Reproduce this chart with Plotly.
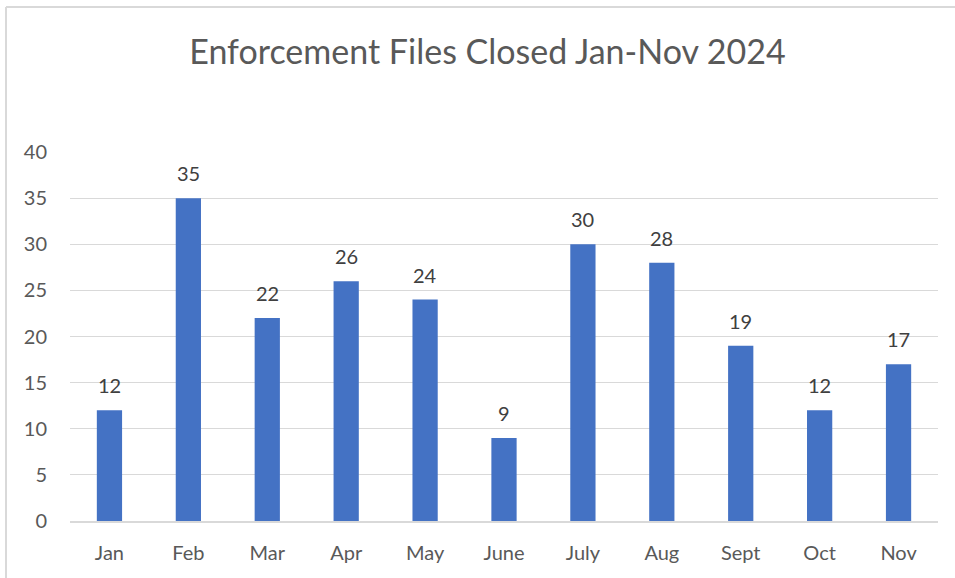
import plotly.graph_objects as go

months = ["Jan", "Feb", "Mar", "Apr", "May", "June", "July", "Aug", "Sept", "Oct", "Nov"]
files_closed = [12, 35, 22, 26, 24, 9, 30, 28, 19, 12, 17]
y_ticks = [0, 5, 10, 15, 20, 25, 30, 35, 40]

BAR = "#4472C4"
GRID = "#D9D9D9"
FONT = "Lato, 'Open Sans', sans-serif"

fig = go.Figure(go.Bar(x=months, y=files_closed, marker=dict(color=BAR, line=dict(width=0)),
                       width=0.32, hoverinfo="x+y"))

for m, v in zip(months, files_closed):
    fig.add_annotation(x=m, y=v, text=str(v), showarrow=False, yanchor="bottom", yshift=11,
                       font=dict(family=FONT, size=20, color="#404040"))

L, R, T, B = 70, 17, 152, 57
W, H = 955, 578
pw, ph = W - L - R, H - T - B
# chart border (top and left edges visible)
top_y = (H - B - 7) / ph
left_x = (6 - L) / pw
fig.add_shape(type="line", xref="paper", yref="paper", x0=left_x, x1=(W - L + 5) / pw, y0=top_y, y1=top_y,
              line=dict(color=GRID, width=2))
fig.add_shape(type="line", xref="paper", yref="paper", x0=left_x, x1=left_x, y0=-(B + 5) / ph, y1=top_y,
              line=dict(color=GRID, width=2))

fig.update_layout(
    width=W, height=H,
    margin=dict(l=L, r=R, t=T, b=B),
    paper_bgcolor="white", plot_bgcolor="white",
    title=dict(text="Enforcement Files Closed Jan-Nov 2024", x=487.5 / W, xanchor="center",
               y=1 - 52 / H, yanchor="middle",
               font=dict(family=FONT, size=34, color="#595959")),
    showlegend=False,
    font=dict(family=FONT, size=20, color="#595959"),
    bargap=0.68,
)
fig.update_yaxes(range=[0, 40], tickvals=y_ticks, showgrid=True, gridcolor=GRID, gridwidth=1,
                 zeroline=False, showline=False, ticks="", ticklabelstandoff=22,
                 tickfont=dict(family=FONT, size=20, color="#595959"))
fig.update_xaxes(showline=True, linecolor=GRID, linewidth=2, ticks="", showgrid=False,
                 ticklabelstandoff=13, tickfont=dict(family=FONT, size=20, color="#595959"))

fig.write_html("out.html", config={"displayModeBar": False},
               post_script="document.body.style.margin='0';document.body.style.overflow='hidden';"
                           "document.documentElement.style.overflow='hidden';")
